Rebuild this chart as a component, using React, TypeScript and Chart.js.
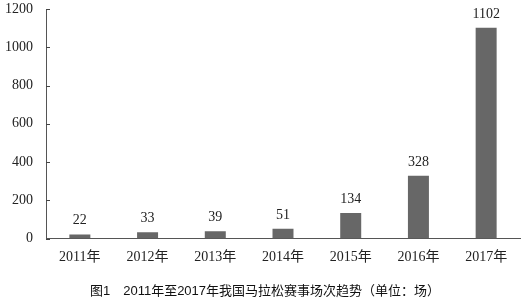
import React, { useEffect, useRef } from "react";
import { Chart, registerables } from "chart.js";

Chart.register(...registerables);

const years = ["2011年", "2012年", "2013年", "2014年", "2015年", "2016年", "2017年"];
const raceCounts = [22, 33, 39, 51, 134, 328, 1102];
const yTicks = [0, 200, 400, 600, 800, 1000, 1200];
const caption = "图1　2011年至2017年我国马拉松赛事场次趋势（单位：场）";

const SERIF = '"Liberation Serif", "Noto Sans CJK SC", serif';
const SANS = '"Liberation Sans", "Noto Sans CJK SC", sans-serif';

// Short tick marks pointing into the plot from the y axis line
const inwardTicks = {
  id: "inwardTicks",
  afterDraw(chart: any) {
    const y = chart.scales.y;
    const ctx = chart.ctx;
    ctx.save();
    ctx.strokeStyle = "#444";
    ctx.lineWidth = 1;
    yTicks.forEach((v) => {
      const py = Math.round(y.getPixelForValue(v)) + 0.5;
      ctx.beginPath();
      ctx.moveTo(chart.chartArea.left, py);
      ctx.lineTo(chart.chartArea.left + 4, py);
      ctx.stroke();
    });
    ctx.restore();
  },
};

// Value labels above each bar
const valueLabels = {
  id: "valueLabels",
  afterDatasetsDraw(chart: any) {
    const ctx = chart.ctx;
    const meta = chart.getDatasetMeta(0);
    ctx.save();
    ctx.fillStyle = "#222";
    ctx.font = `14px ${SERIF}`;
    ctx.textAlign = "center";
    ctx.textBaseline = "alphabetic";
    meta.data.forEach((bar: any, i: number) => {
      ctx.fillText(String(raceCounts[i]), bar.x, bar.y - 10);
    });
    ctx.restore();
  },
};

// Nudge the caption block a little to the right of the canvas centre
const captionOffset = {
  id: "captionOffset",
  afterLayout(chart: any) {
    const t = chart.titleBlock;
    if (t) t.left += 10;
  },
};

export default function App() {
  const ref = useRef<HTMLCanvasElement | null>(null);

  useEffect(() => {
    document.body.style.margin = "0";
    let chart: Chart | null = null;
    let cancelled = false;

    const build = () => {
      if (cancelled || !ref.current) return;
      chart = new Chart(ref.current, {
        type: "bar",
        data: {
          labels: years,
          datasets: [
            {
              data: raceCounts,
              backgroundColor: "#676767",
              barPercentage: 0.31,
              categoryPercentage: 1,
            },
          ],
        },
        options: {
          animation: false,
          responsive: false,
          devicePixelRatio: 1,
          layout: { padding: { top: 9, right: 7, left: 0, bottom: 1 } },
          plugins: {
            legend: { display: false },
            tooltip: { enabled: false },
            title: {
              display: true,
              position: "bottom",
              text: caption,
              color: "#111",
              font: { family: SANS, size: 13, weight: "normal" },
              padding: { top: 8, bottom: 0 },
            },
          },
          scales: {
            x: {
              grid: { display: false, drawTicks: false },
              border: { display: true, color: "#555", width: 1 },
              ticks: {
                color: "#222",
                font: { family: SERIF, size: 14 },
                padding: 10,
                maxRotation: 0,
              },
            },
            y: {
              min: 0,
              max: 1200,
              afterBuildTicks: (scale: any) => {
                scale.ticks = yTicks.map((v) => ({ value: v }));
              },
              afterFit: (scale: any) => {
                scale.width = 46;
                scale.paddingTop = 0;
              },
              grid: { display: false, drawTicks: false },
              border: { display: true, color: "#555", width: 1 },
              ticks: {
                color: "#222",
                font: { family: SERIF, size: 14 },
                padding: 13,
                callback: (v: any) => String(v),
              },
            },
          },
        },
        plugins: [inwardTicks, valueLabels, captionOffset],
      });
    };

    // Make sure the serif and CJK faces are ready before the canvas draws text
    const fonts = (document as any).fonts;
    if (fonts && fonts.load) {
      Promise.all([
        fonts.load('14px "Liberation Serif"', "2011"),
        fonts.load('13px "Liberation Sans"', "2011"),
        fonts.load('13px "Noto Sans CJK SC"', "年图"),
      ])
        .catch(() => undefined)
        .then(build);
    } else {
      build();
    }

    return () => {
      cancelled = true;
      if (chart) chart.destroy();
    };
  }, []);

  return (
    <div style={{ width: 527, height: 300, background: "#fff" }}>
      <canvas ref={ref} width={527} height={300} />
    </div>
  );
}
